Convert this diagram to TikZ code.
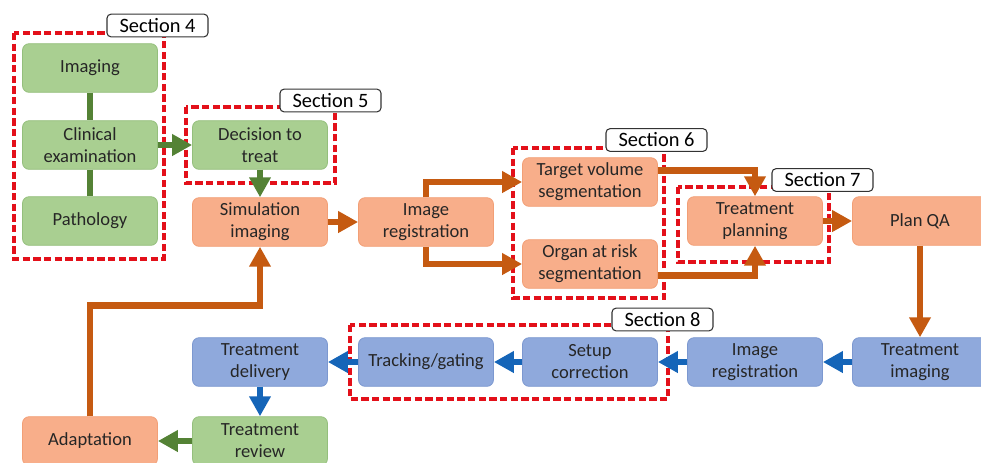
\documentclass[tikz,border=0pt]{standalone}
\usepackage{fontspec}
\setmainfont{Carlito}
\usetikzlibrary{arrows.meta,calc}
\definecolor{gfill}{HTML}{A9CF91}
\definecolor{gborder}{HTML}{94BF7C}
\definecolor{ofill}{HTML}{F8AE8A}
\definecolor{oborder}{HTML}{F29F76}
\definecolor{bfill}{HTML}{8FA9DC}
\definecolor{bborder}{HTML}{7C98D0}
\definecolor{garr}{HTML}{548235}
\definecolor{oarr}{HTML}{C55A11}
\definecolor{barr}{HTML}{1565B8}
\definecolor{secred}{HTML}{E3101A}
\definecolor{txt}{HTML}{262626}
\tikzset{
  flowbox/.style={rounded corners=5pt, minimum width=101.25pt, minimum height=36.5pt,
    align=center, text=txt, line width=0.6pt, inner sep=1pt,
    font=\fontsize{13.9}{16.5}\selectfont},
  gbox/.style={flowbox, draw=gborder, fill=gfill},
  obox/.style={flowbox, draw=oborder, fill=ofill},
  bbox/.style={flowbox, draw=bborder, fill=bfill},
  arrowtip/.style={-{Triangle[length=15pt,width=15.5pt]}},
  gline/.style={line width=4.8pt, draw=garr},
  garrow/.style={line width=4.8pt, draw=garr, arrowtip},
  oarrow/.style={line width=4.8pt, draw=oarr, arrowtip},
  barrow/.style={line width=4.8pt, draw=barr, arrowtip},
  secbox/.style={draw=secred, line width=2.4pt, dash pattern=on 5.5pt off 2.5pt},
  seclabel/.style={draw=black!80, fill=white, rounded corners=3pt, line width=0.8pt,
    minimum width=75.75pt, minimum height=17pt, inner sep=0pt, text=black,
    font=\fontsize{15.3}{17}\selectfont}
}
\begin{document}
\begin{tikzpicture}[x=0.75pt,y=-0.75pt]
\useasboundingbox (0,0) rectangle (981,462);
% dashed section frames
\draw[secbox] (14,33) rectangle (164,259);
\draw[secbox] (186,107) rectangle (335,183);
\draw[secbox] (513,148) rectangle (664,298);
\draw[secbox] (678,187) rectangle (829,262);
\draw[secbox] (350,325) rectangle (668,399);
% boxes
\node[gbox] (img)   at (90,68)  {Imaging};
\node[gbox] (clin)  at (90,145) {Clinical\\examination};
\node[gbox] (path)  at (90,221) {Pathology};
\node[gbox] (dec)   at (260,145) {Decision to\\treat};
\node[obox] (sim)   at (260,222) {Simulation\\imaging};
\node[obox] (reg)   at (426,222) {Image\\registration};
\node[obox] (tv)    at (590,182) {Target volume\\segmentation};
\node[obox] (oar)   at (590,264) {Organ at risk\\segmentation};
\node[obox] (tp)    at (755,221) {Treatment\\planning};
\node[obox] (qa)    at (920,221) {Plan QA};
\node[bbox] (timg)  at (920,362) {Treatment\\imaging};
\node[bbox] (reg2)  at (755,362) {Image\\registration};
\node[bbox] (setup) at (590,362) {Setup\\correction};
\node[bbox] (track) at (426,362) {Tracking/gating};
\node[bbox] (deliv) at (260,362) {Treatment\\delivery};
\node[gbox] (rev)   at (260,441) {Treatment\\review};
\node[obox] (adapt) at (90,441) {Adaptation};
% connectors
\draw[gline] (img) -- (clin);
\draw[gline] (clin) -- (path);
\draw[garrow] (clin) -- (dec);
\draw[garrow] (dec) -- (sim);
\draw[oarrow] (sim) -- (reg);
\draw[oarrow] (reg.north) |- (tv.west);
\draw[oarrow] (reg.south) |- (oar.west);
\draw[oarrow] ($(tv.north east)!0.27!(tv.south east)$) -| (tp.north);
\draw[oarrow] ($(oar.north east)!0.73!(oar.south east)$) -| (tp.south);
\draw[oarrow] (tp) -- (qa);
\draw[oarrow] (qa) -- (timg);
\draw[barrow] (timg) -- (reg2);
\draw[barrow] (reg2) -- (setup);
\draw[barrow] (setup) -- (track);
\draw[barrow] (track) -- (deliv);
\draw[barrow] (deliv) -- (rev);
\draw[garrow] (rev) -- (adapt);
\coordinate (bend) at (260,305.5);
\draw[oarrow] (adapt.north) |- (bend) -- (sim.south);
% section labels
\node[seclabel] (s4) at (157.5,25.5) {Section 4};
\node[seclabel] (s5) at (330.5,100.5) {Section 5};
\node[seclabel] (s6) at (656.5,140) {Section 6};
\node[seclabel] (s7) at (822.5,180) {Section 7};
\node[seclabel] (s8) at (662.5,319.5) {Section 8};
\end{tikzpicture}
\end{document}
